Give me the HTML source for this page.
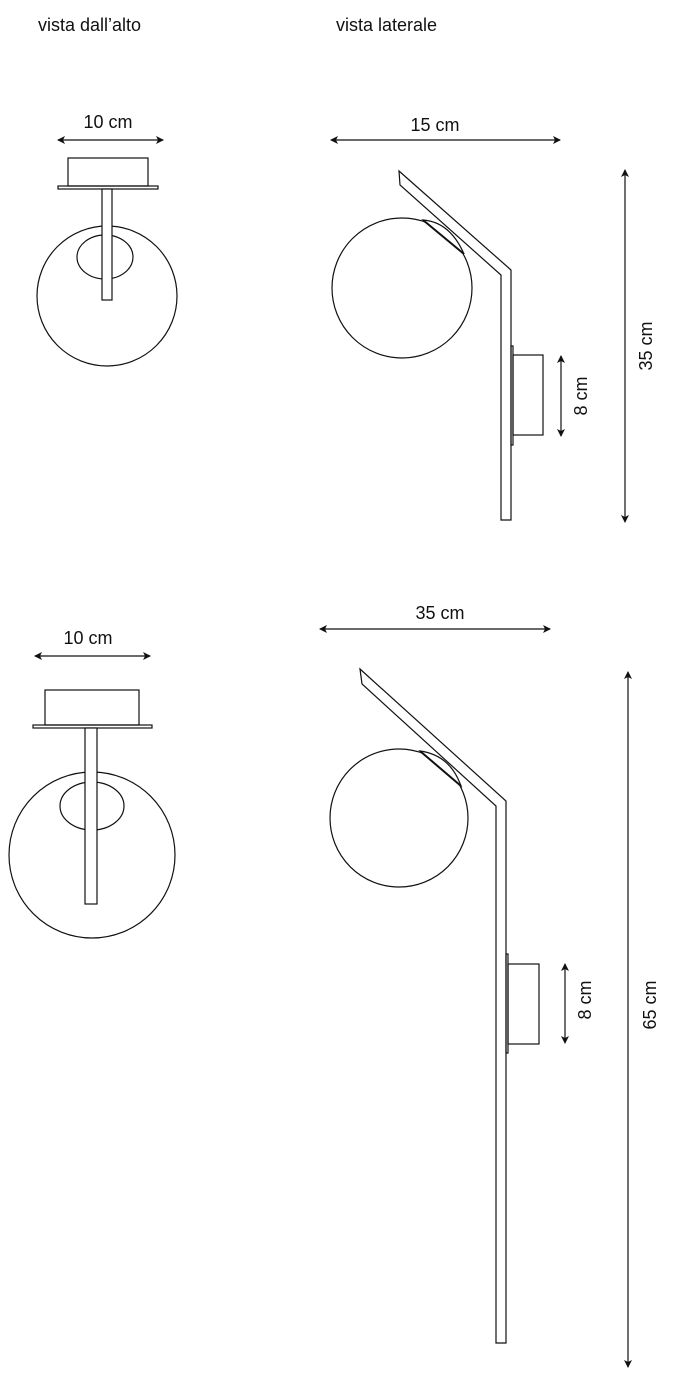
<!DOCTYPE html>
<html><head><meta charset="utf-8"><style>
html,body{margin:0;padding:0;background:#fff}
svg{display:block}
text{font-family:"Liberation Sans",sans-serif;fill:#111}
</style></head><body>
<svg width="675" height="1379" viewBox="0 0 675 1379" xmlns="http://www.w3.org/2000/svg">
<defs>
<marker id="a" markerWidth="8" markerHeight="8" refX="7" refY="4" orient="auto-start-reverse" markerUnits="userSpaceOnUse">
<path d="M0,0 L8,4 L0,8 L2,4 Z" fill="#111"/></marker>
</defs>
<text x="38" y="31" font-size="18">vista dall’alto</text>
<text x="336" y="31" font-size="18">vista laterale</text>
<g fill="none" stroke="#111" stroke-width="1.2">
<!-- top view 1 -->
<line x1="58" y1="140" x2="163" y2="140" marker-start="url(#a)" marker-end="url(#a)"/>
<rect x="68" y="158" width="80" height="28"/>
<rect x="58" y="186" width="100" height="3"/>
<circle cx="107" cy="296" r="70"/>
<ellipse cx="105" cy="257" rx="28" ry="22"/>
<rect x="102" y="189" width="10" height="111" fill="#fff"/>
<!-- side view 1 -->
<line x1="331" y1="140" x2="560" y2="140" marker-start="url(#a)" marker-end="url(#a)"/>
<circle cx="402" cy="288" r="70"/>
<path d="M423,220 Q450,222 464,254 Z" fill="#fff"/>
<line x1="423" y1="220" x2="464" y2="254" stroke-width="2"/>
<path d="M399,171 L511,270 L511,520 L501,520 L501,275 L400,185 Z" fill="#fff"/>
<rect x="511" y="346" width="2" height="99"/>
<rect x="513" y="355" width="30" height="80"/>
<line x1="561" y1="356" x2="561" y2="436" marker-start="url(#a)" marker-end="url(#a)"/>
<line x1="625" y1="170" x2="625" y2="522" marker-start="url(#a)" marker-end="url(#a)"/>
<!-- top view 2 -->
<line x1="35" y1="656" x2="150" y2="656" marker-start="url(#a)" marker-end="url(#a)"/>
<rect x="45" y="690" width="94" height="35"/>
<rect x="33" y="725" width="119" height="3"/>
<circle cx="92" cy="855" r="83"/>
<ellipse cx="92" cy="806" rx="32" ry="24"/>
<rect x="85" y="728" width="12" height="176" fill="#fff"/>
<!-- side view 2 -->
<line x1="320" y1="629" x2="550" y2="629" marker-start="url(#a)" marker-end="url(#a)"/>
<circle cx="399" cy="818" r="69"/>
<path d="M420,751 Q450,755 461,786 Z" fill="#fff"/>
<line x1="420" y1="751" x2="461" y2="786" stroke-width="2"/>
<path d="M360,669 L506,801 L506,1343 L496,1343 L496,806 L362,684 Z" fill="#fff"/>
<rect x="506" y="954" width="2" height="99"/>
<rect x="508" y="964" width="31" height="80"/>
<line x1="565" y1="964" x2="565" y2="1043" marker-start="url(#a)" marker-end="url(#a)"/>
<line x1="628" y1="672" x2="628" y2="1367" marker-start="url(#a)" marker-end="url(#a)"/>
</g>
<text x="108" y="128" font-size="18" text-anchor="middle">10 cm</text>
<text x="435" y="131" font-size="18" text-anchor="middle">15 cm</text>
<text x="88" y="644" font-size="18" text-anchor="middle">10 cm</text>
<text x="440" y="619" font-size="18" text-anchor="middle">35 cm</text>
<text transform="translate(587,396) rotate(-90)" font-size="18" text-anchor="middle">8 cm</text>
<text transform="translate(652,346) rotate(-90)" font-size="18" text-anchor="middle">35 cm</text>
<text transform="translate(591,1000) rotate(-90)" font-size="18" text-anchor="middle">8 cm</text>
<text transform="translate(656,1005) rotate(-90)" font-size="18" text-anchor="middle">65 cm</text>
</svg>
</body></html>
